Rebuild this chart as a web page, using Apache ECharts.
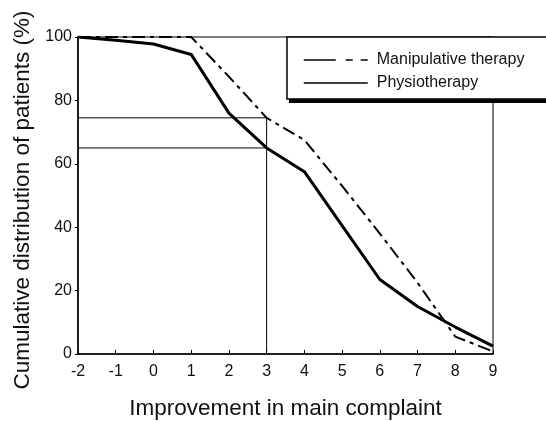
<!DOCTYPE html>
<html>
<head>
<meta charset="utf-8">
<script src="https://cdn.jsdelivr.net/npm/echarts@6/dist/echarts.min.js"></script>
<style>html,body{margin:0;padding:0;background:#fff}#c{width:546px;height:421px}</style>
</head>
<body>
<div id="c"></div>
<script>
var improvement = [-2, -1, 0, 1, 2, 3, 4, 5, 6, 7, 8, 9];
var manipulative = [100, 100, 100, 100, 87.5, 74.5, 67.5, 53, 38, 22.5, 5.5, 0.8];
var physiotherapy = [100, 99, 97.8, 94.5, 76, 65, 57.5, 40.5, 23.5, 15, 8.5, 2.5];
var refLevels = [74.5, 65];
var refX = 3;
var xRange = [-2, 9];
var seriesNames = ['Manipulative therapy', 'Physiotherapy'];

function pairs(xs, ys) { return xs.map(function (x, i) { return [x, ys[i]]; }); }

var font = '"Liberation Sans", Arial, Helvetica, sans-serif';
var chart = echarts.init(document.getElementById('c'), null, { renderer: 'canvas' });

var refSeries = refLevels.map(function (v) {
  return {
    type: 'line', symbol: 'none', silent: true, z: 1,
    lineStyle: { color: '#000', width: 1 },
    data: [[xRange[0], v], [refX, v]]
  };
});
refSeries.push({
  type: 'line', symbol: 'none', silent: true, z: 1,
  lineStyle: { color: '#000', width: 1 },
  data: [[refX, 0], [refX, Math.max.apply(null, refLevels)]]
});

chart.setOption({
  animation: false,
  backgroundColor: '#fff',
  grid: { left: 78, right: 53, top: 37, bottom: 67, show: true, borderColor: '#000', borderWidth: 1, outerBoundsMode: 'none', containLabel: false },
  xAxis: {
    type: 'value', min: xRange[0], max: xRange[1], interval: 1,
    name: 'Improvement in main complaint', nameLocation: 'middle', nameGap: 43,
    nameTextStyle: { fontFamily: font, fontSize: 22.5, color: '#111' },
    axisLine: { onZero: false, lineStyle: { color: '#000', width: 1.5 } },
    axisTick: { inside: true, length: 4, lineStyle: { color: '#000' } },
    axisLabel: { fontFamily: font, fontSize: 16, color: '#111', margin: 10 },
    splitLine: { show: false }
  },
  yAxis: {
    type: 'value', min: 0, max: 100, interval: 20,
    name: 'Cumulative distribution of patients (%)', nameLocation: 'middle', nameGap: 44,
    nameTextStyle: { fontFamily: font, fontSize: 22.5, color: '#111', padding: [0, 9, 0, 0] },
    axisLine: { show: true, onZero: false, lineStyle: { color: '#000', width: 1.5 } },
    axisTick: { show: true, inside: false, length: 3, lineStyle: { color: '#000' } },
    axisLabel: { fontFamily: font, fontSize: 16, color: '#111', margin: 6 },
    splitLine: { show: false }
  },
  legend: {
    left: 298, top: 47, orient: 'vertical', itemGap: 7,
    itemWidth: 64, itemHeight: 14, z: 10,
    textStyle: { fontFamily: font, fontSize: 16, lineHeight: 16, color: '#111', padding: [0, 0, 0, 4] },
    data: [
      { name: seriesNames[0], itemStyle: { opacity: 0 }, lineStyle: { width: 1.5, type: [32, 10, 7, 8, 7, 30] } },
      { name: seriesNames[1], itemStyle: { opacity: 0 }, lineStyle: { width: 1.5 } }
    ]
  },
  graphic: [
    { type: 'rect', z: 8, shape: { x: 289, y: 41, width: 300, height: 62 }, style: { fill: '#000' } },
    { type: 'rect', z: 9, shape: { x: 287, y: 37, width: 300, height: 62 }, style: { fill: '#fff', stroke: '#000', lineWidth: 1.5 } }
  ],
  series: [
    {
      name: seriesNames[0], type: 'line', symbol: 'none', z: 3,
      lineStyle: { color: '#000', width: 2, type: [13, 5, 4, 5] },
      itemStyle: { color: '#000' },
      data: pairs(improvement, manipulative)
    },
    {
      name: seriesNames[1], type: 'line', symbol: 'none', z: 4,
      lineStyle: { color: '#000', width: 3 },
      itemStyle: { color: '#000' },
      data: pairs(improvement, physiotherapy)
    }
  ].concat(refSeries)
});
</script>
</body>
</html>
